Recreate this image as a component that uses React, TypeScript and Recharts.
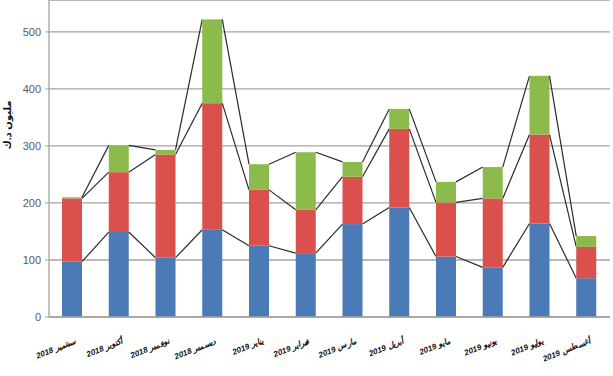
import React from "react";
import { BarChart, Bar, XAxis, YAxis, CartesianGrid } from "recharts";

const categories = [
  "سبتمبر 2018",
  "أكتوبر 2018",
  "نوفمبر 2018",
  "ديسمبر 2018",
  "يناير 2019",
  "فبراير 2019",
  "مارس 2019",
  "أبريل 2019",
  "مايو 2019",
  "يونيو 2019",
  "يوليو 2019",
  "أغسطس 2019",
];
const blueValues = [97, 149, 104, 153, 125, 112, 163, 192, 106, 87, 164, 68];
const redValues = [111, 105, 181, 222, 98, 76, 83, 138, 95, 121, 156, 55];
const greenValues = [2, 47, 8, 147, 45, 101, 26, 35, 36, 55, 103, 19];
const yTicks = [0, 100, 200, 300, 400, 500];
const yLabel = "مليون د.ك";

const KEYS = ["blue", "red", "green"];
const COLORS = ["#4a7bb7", "#d9504c", "#8cbb4b"];

const data = categories.map((name, i) => ({
  name,
  blue: blueValues[i],
  red: redValues[i],
  green: greenValues[i],
}));

const W = 613;
const H = 376;
const MARGIN = { top: 0, right: 3, left: 0, bottom: 0 };
const Y_AXIS_W = 49;
const X_AXIS_H = 59;
const Y_MAX = 556;
const PLOT_W = W - MARGIN.left - MARGIN.right - Y_AXIS_W;
const PLOT_H = H - MARGIN.top - MARGIN.bottom - X_AXIS_H;
const STEP = PLOT_W / categories.length;
const yOf = (v: number) => MARGIN.top + PLOT_H * (1 - v / Y_MAX);

const FONT = "'Liberation Sans', Arial, 'DejaVu Sans', sans-serif";

const cumulative = (row: any, k: number) => {
  let s = 0;
  for (let j = 0; j <= k; j++) s += row[KEYS[j]];
  return s;
};

const makeShape = (k: number) => (props: any) => {
  const { x, y, width, height, index } = props;
  let line = null;
  if (index < data.length - 1) {
    const yNext = yOf(cumulative(data[index + 1], k));
    line = (
      <line
        x1={x + width}
        y1={y}
        x2={x + STEP}
        y2={yNext}
        stroke="#2b2b2b"
        strokeWidth={1.2}
      />
    );
  }
  return (
    <g>
      <rect x={x} y={y} width={width} height={Math.max(height, 0)} fill={COLORS[k]} />
      {line}
    </g>
  );
};

const XTick = (props: any) => {
  const { x, y, payload } = props;
  return (
    <g transform={`translate(${x + 4},${y + 18})`}>
      <text
        transform="rotate(-22)"
        textAnchor="end"
        fontSize={8}
        fontWeight="bold"
        fontStyle="italic"
        fill="#111"
        fontFamily={FONT}
      >
        {payload.value}
      </text>
    </g>
  );
};

const YLabel = () => (
  <text
    x={8}
    y={125}
    transform="rotate(-90, 8, 125)"
    textAnchor="middle"
    dominantBaseline="middle"
    fontSize={10}
    fontWeight="bold"
    fill="#111"
    fontFamily={FONT}
  >
    {yLabel}
  </text>
);

export default function App() {
  return (
    <div style={{ position: "absolute", left: 0, top: 0, width: W, height: H, background: "#fff" }}>
      <BarChart width={W} height={H} data={data} margin={MARGIN} barSize={20}>
        <CartesianGrid vertical={false} stroke="#a8a29c" strokeWidth={1.3} />
        <XAxis
          dataKey="name"
          height={X_AXIS_H}
          interval={0}
          tick={<XTick />}
          tickLine={false}
          axisLine={{ stroke: "#a8a29c", strokeWidth: 1.3 }}
        />
        <YAxis
          width={Y_AXIS_W}
          domain={[0, Y_MAX]}
          ticks={yTicks}
          allowDataOverflow
          tickSize={4}
          tickMargin={4}
          tickLine={{ stroke: "#a8a29c" }}
          axisLine={{ stroke: "#a8a29c", strokeWidth: 1.3 }}
          tick={{ fill: "#5a5a5a", fontSize: 11, fontFamily: FONT }}
          label={<YLabel />}
        />
        {KEYS.map((key, k) => (
          <Bar
            key={key}
            dataKey={key}
            stackId="s"
            fill={COLORS[k]}
            shape={makeShape(k)}
            isAnimationActive={false}
          />
        ))}
      </BarChart>
    </div>
  );
}
